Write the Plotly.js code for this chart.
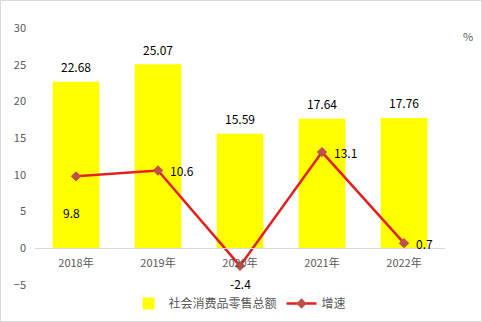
<!DOCTYPE html>
<html><head><meta charset="utf-8">
<script src="https://cdn.plot.ly/plotly-3.0.1.min.js"></script>
<style>body{margin:0;padding:0;background:#fff}#chart{width:480px;height:320px;border:1px solid #d9d9d9}</style>
</head><body><div id="chart"></div>
<script>
const years = ['2018年','2019年','2020年','2021年','2022年'];
const retailTotal = [22.68, 25.07, 15.59, 17.64, 17.76];
const growth = [9.8, 10.6, -2.4, 13.1, 0.7];
const growthLabelPos = ['below','right','below','right','right'];
const yTicks = [-5, 0, 5, 10, 15, 20, 25, 30];

const font = "'Noto Sans CJK SC', 'Noto Sans', sans-serif";

const bars = {
  type: 'bar', x: years, y: retailTotal, name: '社会消费品零售总额',
  marker: {color: '#ffff00'},
  hoverinfo: 'skip'
};
const line = {
  type: 'scatter', mode: 'lines+markers', x: years, y: growth, name: '增速',
  line: {color: '#e3201c', width: 2.5},
  marker: {symbol: 'diamond', size: 8, color: '#c0504d'},
  cliponaxis: false, hoverinfo: 'skip'
};

const annotations = retailTotal.map((v, i) => ({
  x: years[i], y: v, xref: 'x', yref: 'y', text: v.toFixed(2), showarrow: false,
  font: {family: font, size: 12, color: '#000'},
  xanchor: 'center', yanchor: 'middle', yshift: 15
}));
growth.forEach((v, i) => {
  const below = growthLabelPos[i] === 'below';
  annotations.push({
    x: years[i], y: v, xref: 'x', yref: 'y', text: String(v), showarrow: false,
    font: {family: font, size: 12, color: '#000'},
    xanchor: below ? 'center' : 'left', yanchor: 'middle',
    xshift: below ? (i === 0 ? -5 : 0) : 10, yshift: below ? (i === 0 ? -36 : -18) : 0
  });
});
annotations.push({xref: 'paper', yref: 'paper', x: 1.04, y: 0.97, text: '%', showarrow: false,
  font: {family: font, size: 11, color: '#595959'}, xanchor: 'left', yanchor: 'middle'});

const layout = {
  width: 480, height: 320,
  margin: {l: 34, r: 36, t: 27, b: 36, autoexpand: false},
  paper_bgcolor: '#fff', plot_bgcolor: '#fff',
  font: {family: font, color: '#595959', size: 11},
  bargap: 0.43,
  showlegend: true,
  legend: {orientation: 'h', x: 0.5, xanchor: 'center', y: -0.072, yanchor: 'middle',
    font: {family: font, size: 12, color: '#595959'}, traceorder: 'normal'},
  xaxis: {anchor: 'free', position: 5/35, showline: true, linecolor: '#d9d9d9', linewidth: 1,
    ticks: '', showgrid: false, zeroline: false, automargin: false, ticklabelstandoff: 5,
    tickfont: {family: font, size: 11, color: '#595959'}},
  yaxis: {range: [-5, 30], tickvals: yTicks, showgrid: false, zeroline: false, showline: false,
    ticks: '', ticklabelstandoff: 8, automargin: false,
    tickfont: {family: font, size: 11, color: '#595959'}},
  annotations: annotations
};

Plotly.newPlot('chart', [bars, line], layout, {staticPlot: true, displayModeBar: false});
</script></body></html>
